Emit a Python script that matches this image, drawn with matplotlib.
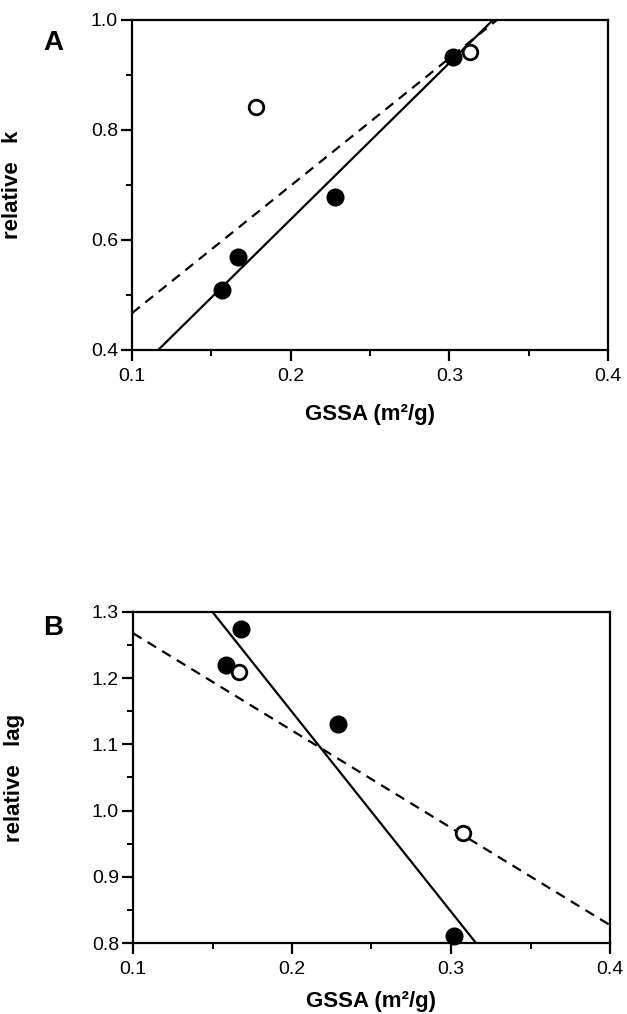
import matplotlib
matplotlib.use("Agg")
import matplotlib.pyplot as plt
from matplotlib.ticker import MultipleLocator

plt.rcParams['font.family'] = ['Liberation Sans', 'DejaVu Sans']

# panel A: relative k vs GSSA
a_filled_x = [0.157, 0.167, 0.228, 0.302]
a_filled_y = [0.509, 0.569, 0.678, 0.933]
a_open_x = [0.178, 0.313]
a_open_y = [0.842, 0.942]
a_solid_x = [0.1165, 0.3275]
a_solid_y = [0.40, 1.00]
a_dash_x = [0.10, 0.330]
a_dash_y = [0.467, 1.00]

# panel B: relative lag vs GSSA
b_filled_x = [0.1585, 0.168, 0.229, 0.302]
b_filled_y = [1.220, 1.274, 1.131, 0.811]
b_open_x = [0.1667, 0.3076]
b_open_y = [1.209, 0.966]
b_solid_x = [0.150, 0.3157]
b_solid_y = [1.30, 0.80]
b_dash_x = [0.10, 0.40]
b_dash_y = [1.268, 0.827]

x_ticks = [0.1, 0.2, 0.3, 0.4]
a_yticks = [0.4, 0.6, 0.8, 1.0]
b_yticks = [0.8, 0.9, 1.0, 1.1, 1.2, 1.3]

W, H = 627, 1014
fig = plt.figure(figsize=(W / 100, H / 100), dpi=100)


def make_axes(left, top, right, bottom):
    return fig.add_axes([left / W, 1 - bottom / H, (right - left) / W, (bottom - top) / H])


def style(ax, ylim, yticks, ymin, ylabel, ylab_x):
    ax.set_xlim(0.1, 0.4)
    ax.set_ylim(*ylim)
    ax.set_xticks(x_ticks)
    ax.set_xticklabels([f"{t:.1f}" for t in x_ticks])
    ax.set_yticks(yticks)
    ax.set_yticklabels([f"{t:.1f}" for t in yticks])
    ax.xaxis.set_minor_locator(MultipleLocator(0.05))
    ax.yaxis.set_minor_locator(MultipleLocator(ymin))
    for sp in ax.spines.values():
        sp.set_linewidth(1.6)
    ax.tick_params(which='major', direction='out', length=8, width=1.6, labelsize=14)
    ax.tick_params(axis='x', which='major', pad=5)
    ax.tick_params(axis='y', which='major', pad=2)
    ax.tick_params(which='minor', direction='out', length=4, width=1.4)
    ax.set_ylabel(ylabel, fontsize=16, fontweight='bold')
    ax.yaxis.set_label_coords(ylab_x, 0.5)
    ax.set_xlabel("GSSA (m\u00b2/g)", fontsize=16, fontweight='bold')


def draw(ax, fx, fy, ox, oy, sx, sy, dx, dy):
    ax.plot(sx, sy, color='black', lw=1.6, solid_capstyle='butt', clip_on=True)
    ax.plot(dx, dy, color='black', lw=1.6, dashes=(4.5, 3.2), clip_on=True)
    ax.plot(fx, fy, 'o', color='black', ms=12, zorder=5, clip_on=False)
    ax.plot(ox, oy, 'o', mfc='white', mec='black', mew=2, ms=10.5, zorder=5, clip_on=False)


ax1 = make_axes(132, 20, 608, 350)
draw(ax1, a_filled_x, a_filled_y, a_open_x, a_open_y, a_solid_x, a_solid_y, a_dash_x, a_dash_y)
style(ax1, (0.4, 1.0), a_yticks, 0.1, "relative   k", -0.229)
ax1.xaxis.set_label_coords(0.5, -0.165)

ax2 = make_axes(133, 612, 610, 943)
draw(ax2, b_filled_x, b_filled_y, b_open_x, b_open_y, b_solid_x, b_solid_y, b_dash_x, b_dash_y)
style(ax2, (0.8, 1.3), b_yticks, 0.05, "relative   lag", -0.226)
ax2.xaxis.set_label_coords(0.5, -0.145)

fig.text(53 / W, 1 - 43 / H, "A", fontsize=20, fontweight='bold', ha='center', va='center')
fig.text(53 / W, 1 - 628 / H, "B", fontsize=20, fontweight='bold', ha='center', va='center')

fig.savefig("out.png", dpi=100)
